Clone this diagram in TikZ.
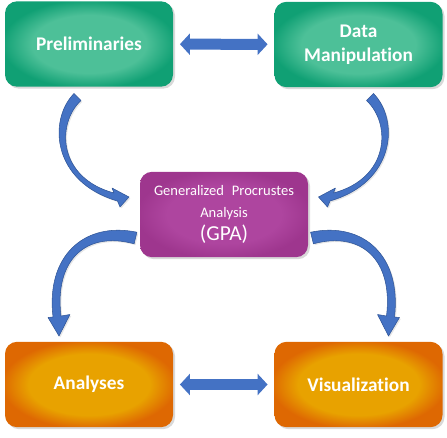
\documentclass[tikz,border=0pt]{standalone}
\usepackage{fontspec}
\setmainfont{Carlito}[Ligatures={NoCommon,NoContextual}]
\usetikzlibrary{arrows.meta,shadows}

\definecolor{greenout}{HTML}{10A074}
\definecolor{greenin}{HTML}{4DC098}
\definecolor{pinkout}{HTML}{9E368E}
\definecolor{pinkin}{HTML}{AE459F}
\definecolor{orangeout}{HTML}{DE6802}
\definecolor{orangein}{HTML}{E8A200}
\definecolor{arrowblue}{HTML}{4472C4}
\definecolor{arrowedge}{HTML}{2F5597}

\pgfdeclareradialshading{greenshade}{\pgfpoint{0bp}{0bp}}{color(0bp)=(greenin); color(17bp)=(greenin); color(26bp)=(greenout); color(50bp)=(greenout)}
\pgfdeclareradialshading{pinkshade}{\pgfpoint{0bp}{0bp}}{color(0bp)=(pinkin); color(17bp)=(pinkin); color(26bp)=(pinkout); color(50bp)=(pinkout)}
\pgfdeclareradialshading{orangeshade}{\pgfpoint{0bp}{0bp}}{color(0bp)=(orangein); color(18bp)=(orangein); color(26bp)=(orangeout); color(50bp)=(orangeout)}

\tikzset{
  box/.style={rounded corners=9pt, minimum width=126pt, minimum height=64pt,
    text=white, align=center,
    drop shadow={shadow xshift=1.5pt, shadow yshift=-1.5pt, opacity=0.3}},
  greenbox/.style={box, shading=greenshade,
    font=\fontsize{14.5}{18}\selectfont\bfseries},
  orangebox/.style={box, shading=orangeshade,
    font=\fontsize{14.5}{18}\selectfont\bfseries},
  pinkbox/.style={box, shading=pinkshade,
    font=\fontsize{10.9}{13.5}\selectfont},
  dblarrow/.style={draw=arrowblue, line width=8.25pt,
    {Triangle[width=15.75pt,length=7.5pt]}-{Triangle[width=15.75pt,length=7.5pt]},
    shorten <=5pt, shorten >=5pt},
  curvearrow/.style={fill=arrowblue, draw=arrowedge, line width=0.4pt, line join=round,
    drop shadow={shadow xshift=1pt, shadow yshift=-1pt, opacity=0.2}}
}

\begin{document}
\begin{tikzpicture}[x=0.75pt, y=-0.75pt]
  \useasboundingbox (0,0) rectangle (447,437);

  % boxes
  \node[greenbox] (prelim) at (89,44) {Preliminaries};
  \node[greenbox] (datamanip) at (358.5,44.5) {Data\\Manipulation};
  \node[pinkbox] (gpa) at (224,214.5)
    {Generalized\hspace{0.55em}Procrustes\\[3pt]Analysis\\[4pt]{\fontsize{16}{18}\selectfont(GPA)}};
  \node[orangebox] (analyses) at (89,384.5) {Analyses};
  \node[orangebox] (visual) at (358.5,384.5) {Visualization};

  % double arrows
  \draw[dblarrow] (prelim) -- (datamanip);
  \draw[dblarrow] (analyses) -- (visual);

  % curved arrows into GPA
  \path[curvearrow] (74,93.5) .. controls (47.8,120.4) and (52.3,182.2) .. (117.5,201)
    -- (120,207) -- (129,197) -- (112,188) -- (114,193)
    .. controls (57.7,177.8) and (56.2,123.6) .. (81,100.5) -- cycle;
  \begin{scope}[shift={(447.5,0)}, xscale=-1]
    \path[curvearrow] (74,93.5) .. controls (47.8,120.4) and (52.3,182.2) .. (117.5,201)
      -- (120,207) -- (129,197) -- (112,188) -- (114,193)
      .. controls (57.7,177.8) and (56.2,123.6) .. (81,100.5) -- cycle;
  \end{scope}

  % curved arrows out of GPA
  \path[curvearrow] (136.9,232.2) .. controls (83.7,221.2) and (45.8,256.4) .. (53,317)
    -- (48,317.5) -- (59,336) -- (70,314.5) -- (61,316)
    .. controls (54.2,259.6) and (86.3,230.8) .. (134.1,243.8) -- cycle;
  \begin{scope}[shift={(447.5,0)}, xscale=-1]
    \path[curvearrow] (136.9,232.2) .. controls (83.7,221.2) and (45.8,256.4) .. (53,317)
      -- (48,317.5) -- (59,336) -- (70,314.5) -- (61,316)
      .. controls (54.2,259.6) and (86.3,230.8) .. (134.1,243.8) -- cycle;
  \end{scope}
\end{tikzpicture}
\end{document}
